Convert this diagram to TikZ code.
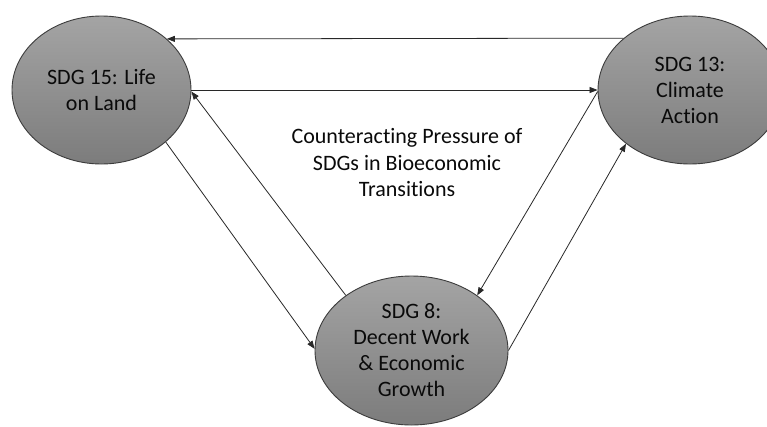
\documentclass[tikz,border=0pt]{standalone}
\usepackage{fontspec}
\setmainfont{Carlito}[Ligatures=NoCommon]
\usetikzlibrary{shapes.geometric,arrows.meta}
\definecolor{elltop}{RGB}{164,164,164}
\definecolor{ellbot}{RGB}{124,124,124}
\definecolor{ellline}{RGB}{60,60,60}
\definecolor{txt}{RGB}{10,10,10}
\definecolor{conn}{RGB}{40,40,40}
\tikzset{
  sdg/.style={ellipse, draw=ellline, line width=0.9pt, top color=elltop, bottom color=ellbot,
    inner sep=0pt, align=center, text=txt, font=\fontsize{22}{26}\selectfont},
  arr/.style={draw=conn, line width=0.8pt, -{Triangle[length=8pt,width=6pt]}},
  label/.style={align=center, text=txt, font=\fontsize{22}{26.5}\selectfont}
}
\begin{document}
\begin{tikzpicture}[x=1pt,y=-1pt]
\fill[white] (0,0) rectangle (767,426);
\useasboundingbox (0,0) rectangle (767,426);
\node[sdg, minimum width=179pt, minimum height=148pt] (L) at (101.5,90) {SDG 15: Life\\on Land};
\node[sdg, minimum width=184pt, minimum height=148pt] (R) at (690,90) {SDG 13:\\Climate\\Action};
\node[sdg, minimum width=193pt, minimum height=149pt] (B) at (411.5,350.5) {SDG 8:\\Decent Work\\\& Economic\\Growth};
\node[label] (T) at (407,163) {Counteracting Pressure of\\SDGs in Bioeconomic\\Transitions};
% top horizontal: R -> L
\draw[arr] (R.142.6) -- (L.38.2);
% middle horizontal: L -> R
\draw[arr] (L.east) -- (R.west);
% L -> B
\draw[arr] (L.-39.9) -- (B.179);
% B -> L
\draw[arr] (B.140) -- (L.-1.5);
% R -> B
\draw[arr] (R.181) -- (B.40.1);
% B -> R
\draw[arr] (B.0.5) -- (R.-140.2);
\end{tikzpicture}
\end{document}
